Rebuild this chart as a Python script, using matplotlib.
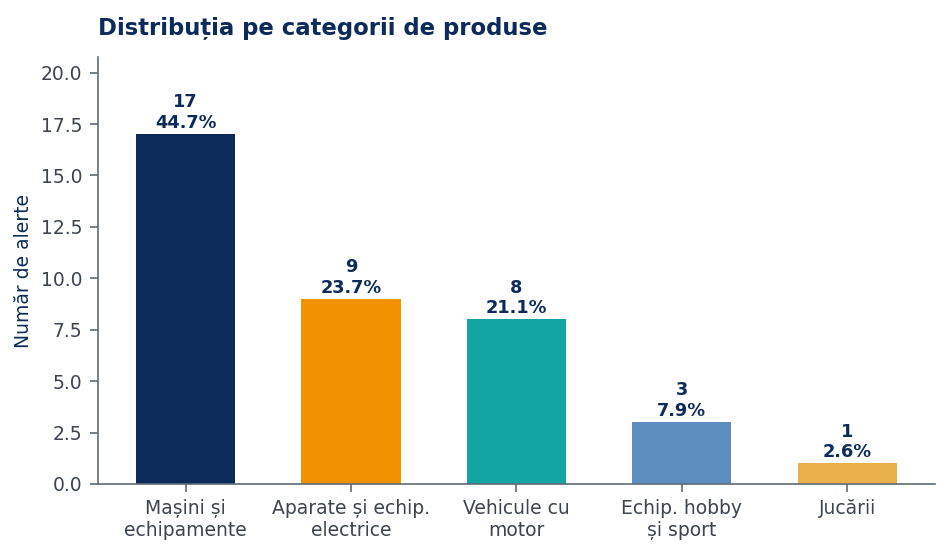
import matplotlib
matplotlib.use("Agg")
import matplotlib.pyplot as plt

categories = ["Mașini și\nechipamente", "Aparate și echip.\nelectrice", "Vehicule cu\nmotor", "Echip. hobby\nși sport", "Jucării"]
values = [17, 9, 8, 3, 1]
percents = [44.7, 23.7, 21.1, 7.9, 2.6]
colors = ["#0d2b5a", "#f29200", "#13a4a4", "#5b8dbf", "#e8af4a"]

navy = "#0d2b5a"
gray = "#3d4450"
spine = "#5f6b78"

fig, ax = plt.subplots(figsize=(9.5, 5.55), dpi=100)
fig.subplots_adjust(left=0.103, right=0.984, top=0.897, bottom=0.128)

x = range(len(categories))
bars = ax.bar(x, values, width=0.6, color=colors)
for xi, v, p in zip(x, values, percents):
    ax.annotate(f"{v}\n{p:.1f}%", (xi, v), xytext=(0, 1.5), textcoords="offset points",
                ha="center", va="bottom", fontsize=12.8, fontweight="bold", color=navy,
                linespacing=1.2)

ax.set_xticks(list(x))
ax.set_xticklabels(categories)
ax.set_ylim(0, 20.75)
ax.set_ylabel("Număr de alerte", fontsize=13.5, color=navy, labelpad=6)
ax.set_title("Distribuția pe categorii de produse", loc="left", fontsize=16.4, fontweight="bold", color=navy, pad=16)
ax.tick_params(axis="both", labelsize=13.5, colors=spine, labelcolor=gray, length=6, width=1.2, pad=5)
for s in ["top", "right"]:
    ax.spines[s].set_visible(False)
for s in ["left", "bottom"]:
    ax.spines[s].set_color(spine)
    ax.spines[s].set_linewidth(1.2)

fig.savefig("out.png", dpi=100)
